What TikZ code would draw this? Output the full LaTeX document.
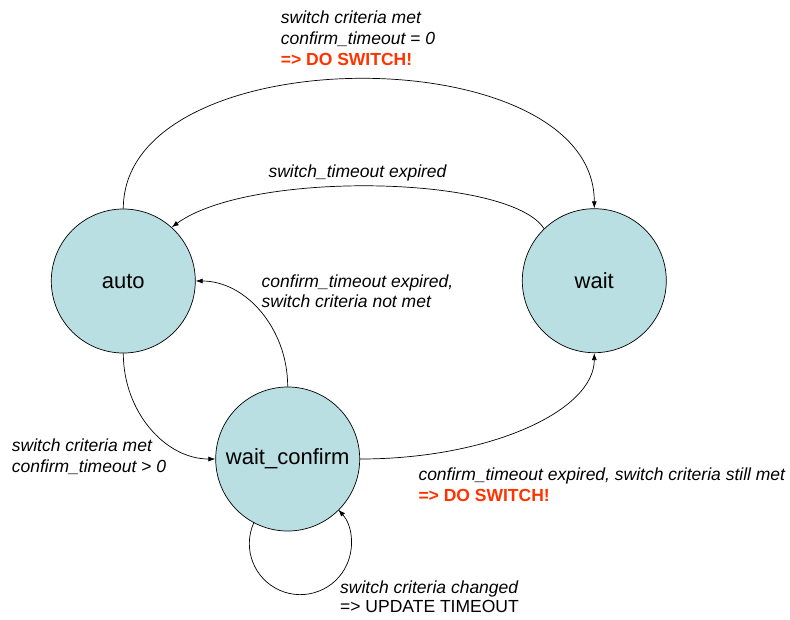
\documentclass[tikz,border=0pt]{standalone}
\usepackage{fontspec}
\setmainfont{Liberation Sans}
\usetikzlibrary{arrows.meta}
\definecolor{statefill}{RGB}{185,223,226}
\definecolor{alertred}{RGB}{255,51,0}
\begin{document}
\begin{tikzpicture}[x=1pt,y=-1pt,
  state/.style={circle,draw=black,line width=0.7pt,fill=statefill,
    minimum size=144pt,inner sep=0pt,font=\fontsize{22}{26}\selectfont},
  trans/.style={draw=black,line width=0.7pt,-{Latex[length=7pt,width=5pt]}},
  lbl/.style={anchor=base west,inner sep=0pt,font=\fontsize{17.5}{21}\selectfont\itshape},
  lblplain/.style={anchor=base west,inner sep=0pt,font=\fontsize{17.5}{21}\selectfont},
  alert/.style={anchor=base west,inner sep=0pt,text=alertred,font=\fontsize{17.5}{21}\selectfont\bfseries}]
\useasboundingbox (0,0) rectangle (790,619);

% states
\node[state] (auto) at (123.3,281) {auto};
\node[state] (wait) at (594.3,280.7) {wait};
\node[state] (wc) at (287.7,459) {wait\_confirm};

% transitions
\draw[trans] (auto.north) .. controls (123.3,36) and (594.3,36) .. (wait.north);
\draw[trans] (wait.134) .. controls (510,175) and (250,170) .. (auto.48);
\draw[trans] (wc.north) .. controls (287.7,328.5) and (245.8,281) .. (auto.east);
\draw[trans] (auto.south) .. controls (123.3,411) and (164.6,459) .. (wc.west);
\draw[trans] (wc.east) .. controls (489,459) and (594.3,411) .. (wait.south);
\draw[trans] (wc.242) arc[start angle=204, end angle=-41.8, radius=51];

% labels
\node[lbl] (t1a) at (280.7,23) {switch criteria met};
\node[lbl] (t1b) at (280.7,44) {confirm\_timeout = 0};
\node[alert] (t1c) at (280.7,65) {=> DO SWITCH!};

\node[lbl] (t2) at (268.3,177.5) {switch\_timeout expired};

\node[lbl] (t3a) at (261.5,287) {confirm\_timeout expired,};
\node[lbl] (t3b) at (261.5,307) {switch criteria not met};

\node[lbl] (t4a) at (11.7,451.7) {switch criteria met};
\node[lbl] (t4b) at (11.7,472.7) {confirm\_timeout > 0};

\node[lbl] (t5a) at (418.3,480) {confirm\_timeout expired, switch criteria still met};
\node[alert] (t5b) at (418.3,501) {=> DO SWITCH!};

\node[lbl] (t6a) at (340,593.3) {switch criteria changed};
\node[lblplain] (t6b) at (340,612.5) {=> UPDATE TIMEOUT};
\end{tikzpicture}
\end{document}
